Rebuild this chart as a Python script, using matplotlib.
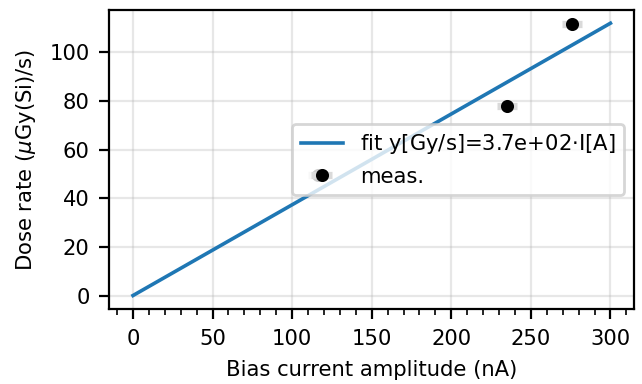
import matplotlib
matplotlib.use("Agg")
import matplotlib.pyplot as plt
import numpy as np
from matplotlib.ticker import AutoMinorLocator

# Measured points
meas_current_nA = [116, 235, 276]
meas_dose_rate = [49.6, 78.0, 111.8]
meas_current_err = [6.3, 6.3, 6.3]

# Fit: y[Gy/s] = 3.7e+02 * I[A]  ->  uGy/s per nA
fit_slope = 0.3733
fit_current_nA = [0, 300]

plt.rcParams["font.size"] = 7.6

fig, ax = plt.subplots(figsize=(3.21, 1.92), dpi=200)

fit_x = np.array(fit_current_nA)
ax.plot(fit_x, fit_slope * fit_x, color="#1f77b4", lw=1.3,
        label="fit y[Gy/s]=3.7e+02$\\cdot$I[A]")
ax.errorbar(meas_current_nA, meas_dose_rate, xerr=meas_current_err,
            fmt="o", color="black", ms=3.7, ecolor="#dadada", elinewidth=2.6,
            capsize=0, label="meas.")

ax.xaxis.set_minor_locator(AutoMinorLocator(5))
ax.grid(True, alpha=0.3)
ax.set_xlabel("Bias current amplitude (nA)")
ax.set_ylabel("Dose rate ($\\mu$Gy(Si)/s)")
ax.legend(loc="center right")

fig.subplots_adjust(left=0.17, right=0.988, top=0.975, bottom=0.195)
fig.savefig("out.png")
